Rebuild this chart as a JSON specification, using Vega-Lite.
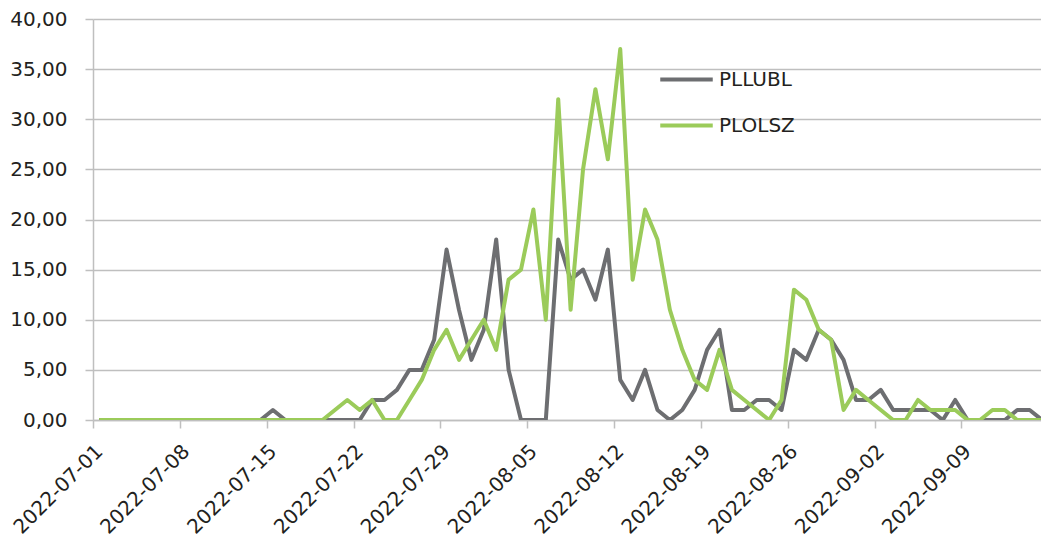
{
  "$schema": "https://vega.github.io/schema/vega-lite/v6.json",
  "width": 948,
  "height": 401,
  "autosize": "none",
  "padding": {"left": 93, "top": 19, "right": 0, "bottom": 126},
  "background": "#ffffff",
  "config": {
    "view": {"stroke": null},
    "font": "DejaVu Sans"
  },
  "data": {
    "values": [
      {"date": "2022-07-01", "PLLUBL": 0, "PLOLSZ": 0},
      {"date": "2022-07-02", "PLLUBL": 0, "PLOLSZ": 0},
      {"date": "2022-07-03", "PLLUBL": 0, "PLOLSZ": 0},
      {"date": "2022-07-04", "PLLUBL": 0, "PLOLSZ": 0},
      {"date": "2022-07-05", "PLLUBL": 0, "PLOLSZ": 0},
      {"date": "2022-07-06", "PLLUBL": 0, "PLOLSZ": 0},
      {"date": "2022-07-07", "PLLUBL": 0, "PLOLSZ": 0},
      {"date": "2022-07-08", "PLLUBL": 0, "PLOLSZ": 0},
      {"date": "2022-07-09", "PLLUBL": 0, "PLOLSZ": 0},
      {"date": "2022-07-10", "PLLUBL": 0, "PLOLSZ": 0},
      {"date": "2022-07-11", "PLLUBL": 0, "PLOLSZ": 0},
      {"date": "2022-07-12", "PLLUBL": 0, "PLOLSZ": 0},
      {"date": "2022-07-13", "PLLUBL": 0, "PLOLSZ": 0},
      {"date": "2022-07-14", "PLLUBL": 0, "PLOLSZ": 0},
      {"date": "2022-07-15", "PLLUBL": 1, "PLOLSZ": 0},
      {"date": "2022-07-16", "PLLUBL": 0, "PLOLSZ": 0},
      {"date": "2022-07-17", "PLLUBL": 0, "PLOLSZ": 0},
      {"date": "2022-07-18", "PLLUBL": 0, "PLOLSZ": 0},
      {"date": "2022-07-19", "PLLUBL": 0, "PLOLSZ": 0},
      {"date": "2022-07-20", "PLLUBL": 0, "PLOLSZ": 1},
      {"date": "2022-07-21", "PLLUBL": 0, "PLOLSZ": 2},
      {"date": "2022-07-22", "PLLUBL": 0, "PLOLSZ": 1},
      {"date": "2022-07-23", "PLLUBL": 2, "PLOLSZ": 2},
      {"date": "2022-07-24", "PLLUBL": 2, "PLOLSZ": 0},
      {"date": "2022-07-25", "PLLUBL": 3, "PLOLSZ": 0},
      {"date": "2022-07-26", "PLLUBL": 5, "PLOLSZ": 2},
      {"date": "2022-07-27", "PLLUBL": 5, "PLOLSZ": 4},
      {"date": "2022-07-28", "PLLUBL": 8, "PLOLSZ": 7},
      {"date": "2022-07-29", "PLLUBL": 17, "PLOLSZ": 9},
      {"date": "2022-07-30", "PLLUBL": 11, "PLOLSZ": 6},
      {"date": "2022-07-31", "PLLUBL": 6, "PLOLSZ": 8},
      {"date": "2022-08-01", "PLLUBL": 9, "PLOLSZ": 10},
      {"date": "2022-08-02", "PLLUBL": 18, "PLOLSZ": 7},
      {"date": "2022-08-03", "PLLUBL": 5, "PLOLSZ": 14},
      {"date": "2022-08-04", "PLLUBL": 0, "PLOLSZ": 15},
      {"date": "2022-08-05", "PLLUBL": 0, "PLOLSZ": 21},
      {"date": "2022-08-06", "PLLUBL": 0, "PLOLSZ": 10},
      {"date": "2022-08-07", "PLLUBL": 18, "PLOLSZ": 32},
      {"date": "2022-08-08", "PLLUBL": 14, "PLOLSZ": 11},
      {"date": "2022-08-09", "PLLUBL": 15, "PLOLSZ": 25},
      {"date": "2022-08-10", "PLLUBL": 12, "PLOLSZ": 33},
      {"date": "2022-08-11", "PLLUBL": 17, "PLOLSZ": 26},
      {"date": "2022-08-12", "PLLUBL": 4, "PLOLSZ": 37},
      {"date": "2022-08-13", "PLLUBL": 2, "PLOLSZ": 14},
      {"date": "2022-08-14", "PLLUBL": 5, "PLOLSZ": 21},
      {"date": "2022-08-15", "PLLUBL": 1, "PLOLSZ": 18},
      {"date": "2022-08-16", "PLLUBL": 0, "PLOLSZ": 11},
      {"date": "2022-08-17", "PLLUBL": 1, "PLOLSZ": 7},
      {"date": "2022-08-18", "PLLUBL": 3, "PLOLSZ": 4},
      {"date": "2022-08-19", "PLLUBL": 7, "PLOLSZ": 3},
      {"date": "2022-08-20", "PLLUBL": 9, "PLOLSZ": 7},
      {"date": "2022-08-21", "PLLUBL": 1, "PLOLSZ": 3},
      {"date": "2022-08-22", "PLLUBL": 1, "PLOLSZ": 2},
      {"date": "2022-08-23", "PLLUBL": 2, "PLOLSZ": 1},
      {"date": "2022-08-24", "PLLUBL": 2, "PLOLSZ": 0},
      {"date": "2022-08-25", "PLLUBL": 1, "PLOLSZ": 2},
      {"date": "2022-08-26", "PLLUBL": 7, "PLOLSZ": 13},
      {"date": "2022-08-27", "PLLUBL": 6, "PLOLSZ": 12},
      {"date": "2022-08-28", "PLLUBL": 9, "PLOLSZ": 9},
      {"date": "2022-08-29", "PLLUBL": 8, "PLOLSZ": 8},
      {"date": "2022-08-30", "PLLUBL": 6, "PLOLSZ": 1},
      {"date": "2022-08-31", "PLLUBL": 2, "PLOLSZ": 3},
      {"date": "2022-09-01", "PLLUBL": 2, "PLOLSZ": 2},
      {"date": "2022-09-02", "PLLUBL": 3, "PLOLSZ": 1},
      {"date": "2022-09-03", "PLLUBL": 1, "PLOLSZ": 0},
      {"date": "2022-09-04", "PLLUBL": 1, "PLOLSZ": 0},
      {"date": "2022-09-05", "PLLUBL": 1, "PLOLSZ": 2},
      {"date": "2022-09-06", "PLLUBL": 1, "PLOLSZ": 1},
      {"date": "2022-09-07", "PLLUBL": 0, "PLOLSZ": 1},
      {"date": "2022-09-08", "PLLUBL": 2, "PLOLSZ": 1},
      {"date": "2022-09-09", "PLLUBL": 0, "PLOLSZ": 0},
      {"date": "2022-09-10", "PLLUBL": 0, "PLOLSZ": 0},
      {"date": "2022-09-11", "PLLUBL": 0, "PLOLSZ": 1},
      {"date": "2022-09-12", "PLLUBL": 0, "PLOLSZ": 1},
      {"date": "2022-09-13", "PLLUBL": 1, "PLOLSZ": 0},
      {"date": "2022-09-14", "PLLUBL": 1, "PLOLSZ": 0},
      {"date": "2022-09-15", "PLLUBL": 0, "PLOLSZ": 0}
    ]
  },
  "transform": [
    {"fold": ["PLLUBL", "PLOLSZ"], "as": ["series", "value"]}
  ],
  "mark": {"type": "line", "strokeWidth": 4, "strokeJoin": "round", "clip": true},
  "encoding": {
    "x": {
      "field": "date",
      "type": "temporal",
      "scale": {
        "type": "utc",
        "domain": [
          {"year": 2022, "month": 6, "date": 30, "hours": 12, "utc": true},
          {"year": 2022, "month": 9, "date": 14, "hours": 21, "minutes": 58, "utc": true}
        ]
      },
      "axis": {
        "title": null,
        "grid": false,
        "values": [
          {"year": 2022, "month": 7, "date": 1, "utc": true},
          {"year": 2022, "month": 7, "date": 8, "utc": true},
          {"year": 2022, "month": 7, "date": 15, "utc": true},
          {"year": 2022, "month": 7, "date": 22, "utc": true},
          {"year": 2022, "month": 7, "date": 29, "utc": true},
          {"year": 2022, "month": 8, "date": 5, "utc": true},
          {"year": 2022, "month": 8, "date": 12, "utc": true},
          {"year": 2022, "month": 8, "date": 19, "utc": true},
          {"year": 2022, "month": 8, "date": 26, "utc": true},
          {"year": 2022, "month": 9, "date": 2, "utc": true},
          {"year": 2022, "month": 9, "date": 9, "utc": true}
        ],
        "format": "%Y-%m-%d",
        "labelAngle": -45,
        "labelAlign": "right",
        "labelBaseline": "middle",
        "labelFont": "DejaVu Sans",
        "labelFontSize": 20,
        "labelColor": "#231f20",
        "labelPadding": 20,
        "labelOverlap": false,
        "labelFlush": false,
        "tickSize": 8,
        "tickOffset": -6.2,
        "labelOffset": 6.2,
        "tickColor": "#bfbfbf",
        "tickWidth": 1.5,
        "domainColor": "#bfbfbf",
        "domainWidth": 1.5
      }
    },
    "y": {
      "field": "value",
      "type": "quantitative",
      "scale": {"domain": [0, 40], "nice": false, "zero": true},
      "axis": {
        "title": null,
        "values": [0, 5, 10, 15, 20, 25, 30, 35, 40],
        "labelExpr": "replace(format(datum.value, '.2f'), '.', ',')",
        "labelFont": "DejaVu Sans",
        "labelFontSize": 20,
        "labelColor": "#231f20",
        "labelPadding": 18,
        "tickSize": 8,
        "tickColor": "#bfbfbf",
        "tickWidth": 1.5,
        "grid": true,
        "gridColor": "#bfbfbf",
        "gridWidth": 1.5,
        "domainColor": "#bfbfbf",
        "domainWidth": 1.5
      }
    },
    "color": {
      "field": "series",
      "type": "nominal",
      "scale": {"domain": ["PLLUBL", "PLOLSZ"], "range": ["#6d6e71", "#9bcb5a"]},
      "legend": {
        "title": null,
        "orient": "none",
        "legendX": 581,
        "legendY": 48,
        "padding": 0,
        "symbolType": "M-2.5,0L2.5,0",
        "symbolSize": 441,
        "symbolStrokeWidth": 4,
        "labelOffset": 20,
        "rowPadding": 23,
        "labelFont": "DejaVu Sans",
        "labelFontSize": 20,
        "labelColor": "#231f20"
      }
    }
  }
}
